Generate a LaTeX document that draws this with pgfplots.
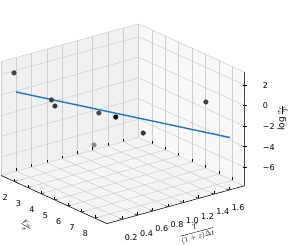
\documentclass[border=0pt]{standalone}
\usepackage{pgfplots}
\pgfplotsset{compat=1.18}
\usepackage{fontspec}
\setmainfont{DejaVu Sans}
\usetikzlibrary{calc}
\definecolor{mplblue}{RGB}{31,119,180}
\definecolor{gridc}{RGB}{205,205,205}
\definecolor{paneF}{RGB}{245,245,245}
\definecolor{paneL}{RGB}{240,240,240}
\definecolor{paneR}{RGB}{248,248,248}
\begin{document}
\begin{tikzpicture}
\begin{axis}[
  set layers,
  x={(76.4pt,21pt)}, y={(-13.4pt,6.1pt)}, z={(0pt,10.3pt)},
  y dir=reverse,
  xmin=0, xmax=1.8, ymin=1.0, ymax=8.9, zmin=-7.8, zmax=3.25,
  grid=major, grid style={gridc, line width=0.5pt},
  axis line style={gridc, line width=0.5pt},
  xtick={0.2,0.4,0.6,0.8,1.0,1.2,1.4,1.6}, ytick={2,3,4,5,6,7,8}, ztick={-6,-4,-2,0,2},
  xticklabels={0.2,0.4,0.6,0.8,1.0,1.2,1.4,1.6},
  yticklabels={2,3,4,5,6,7,8},
  zticklabels={−6,−4,−2,0,2},
  xtick pos=left, ytick pos=left,
  xticklabel pos=left, yticklabel pos=left, zticklabel pos=right,
  tick style={black, line width=0.5pt},
  ztick style={draw=none},
  major tick length=3pt,
  tick label style={font=\fontsize{8}{9}\selectfont},
  xticklabel style={xshift=4pt, yshift=-10pt},
  yticklabel style={xshift=-4pt, yshift=-9pt},
  zticklabel style={xshift=15pt},
  /pgf/number format/assume math mode=true,
  clip=false,
  xlabel={$\displaystyle\frac{T}{(1+z)\Delta t}$},
  ylabel={$\textstyle\frac{F_w}{\sigma}$},
  zlabel={$\textstyle\log\frac{\sigma_r}{T}$},
  every axis x label/.style={at={(axis cs:0.58,12.3,-7.8)}, anchor=center, rotate=15, font=\fontsize{7.5}{9}\selectfont},
  every axis y label/.style={at={(axis cs:-0.70,6.85,-7.8)}, anchor=center, rotate=-30, font=\fontsize{9}{10}\selectfont},
  every axis z label/.style={at={(axis cs:1.8,11.75,0.48)}, anchor=center, rotate=90, font=\fontsize{9}{10}\selectfont},
]
\begin{pgfonlayer}{axis background}
\fill[paneF] (axis cs:0,1,-7.8) -- (axis cs:1.8,1,-7.8) -- (axis cs:1.8,8.9,-7.8) -- (axis cs:0,8.9,-7.8) -- cycle;
\fill[paneL] (axis cs:0,1,-7.8) -- (axis cs:1.8,1,-7.8) -- (axis cs:1.8,1,3.25) -- (axis cs:0,1,3.25) -- cycle;
\fill[paneR] (axis cs:1.8,1,-7.8) -- (axis cs:1.8,8.9,-7.8) -- (axis cs:1.8,8.9,3.25) -- (axis cs:1.8,1,3.25) -- cycle;
\end{pgfonlayer}
\draw[black, line width=0.5pt] (axis cs:0,1,-7.8) -- (axis cs:0,8.9,-7.8) -- (axis cs:1.8,8.9,-7.8) -- (axis cs:1.8,8.9,3.25);
\draw[black, line width=0.5pt] (axis cs:1.8,8.9,-6) ++(-1.5pt,0pt) -- ++(4pt,0pt);
\draw[black, line width=0.5pt] (axis cs:1.8,8.9,-4) ++(-1.5pt,0pt) -- ++(4pt,0pt);
\draw[black, line width=0.5pt] (axis cs:1.8,8.9,-2) ++(-1.5pt,0pt) -- ++(4pt,0pt);
\draw[black, line width=0.5pt] (axis cs:1.8,8.9,0) ++(-1.5pt,0pt) -- ++(4pt,0pt);
\draw[black, line width=0.5pt] (axis cs:1.8,8.9,2) ++(-1.5pt,0pt) -- ++(4pt,0pt);
\addplot3[only marks, scatter, scatter src=explicit, mark=*, mark size=2.3pt,
  colormap={gr}{gray(0cm)=(0); gray(1cm)=(1)}, point meta min=0, point meta max=1,
  scatter/use mapped color={draw=mapped color, fill=mapped color}]
  table[meta=m] {
x y z m
0.135 1.2 2.0 0.27
0.31 3 0.08 0.24
0.18 4 0.35 0.22
0.93 3 -2.45 0.28
0.45 7 0.5 0.02
1.16 5 -3.68 0.22
1.63 7 -0.44 0.27
1.13 1.5 -6.85 0.55
};
\addplot3[color=mplblue, line width=1.4pt, no marks] coordinates {(0.11,1.5,0.37) (1.68,8.5,-3.1)};
\coordinate (O) at (axis cs:0,0,0);
\end{axis}
\pgfresetboundingbox
\path ($(O)+(12.4pt,-156pt)$) rectangle ($(O)+(305.4pt,89pt)$);
\end{tikzpicture}
\end{document}
